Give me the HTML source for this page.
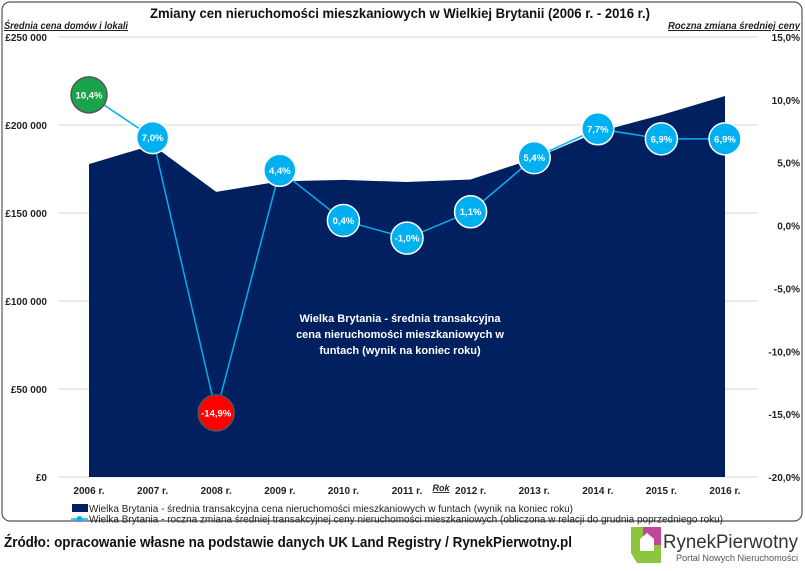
<!DOCTYPE html>
<html><head><meta charset="utf-8"><style>
body{margin:0;background:#fff;font-family:"Liberation Sans",sans-serif;}
svg text{font-family:"Liberation Sans","DejaVu Sans",sans-serif;}
</style></head><body>
<svg width="805" height="566" viewBox="0 0 805 566" id="c">
<rect x="2" y="2" width="800" height="519" rx="8" fill="#fff" stroke="#555" stroke-width="1.2"/>
<text x="150" y="18" font-size="14" font-weight="bold" fill="#111" textLength="500" lengthAdjust="spacingAndGlyphs">Zmiany cen nieruchomości mieszkaniowych w Wielkiej Brytanii (2006 r. - 2016 r.)</text>
<text x="4" y="29" font-size="10" font-style="italic" font-weight="bold" text-decoration="underline" fill="#222" textLength="124" lengthAdjust="spacingAndGlyphs">Średnia cena domów i lokali</text>
<text x="668" y="29" font-size="10" font-style="italic" font-weight="bold" text-decoration="underline" fill="#222" textLength="132" lengthAdjust="spacingAndGlyphs">Roczna zmiana średniej ceny</text>
<g id="grid"></g>
<g id="area"></g>
<g id="line"></g>
<text x="400" y="322" text-anchor="middle" font-size="11" font-weight="bold" fill="#fff"><tspan x="400">Wielka Brytania - średnia transakcyjna</tspan><tspan x="400" dy="16">cena nieruchomości mieszkaniowych w</tspan><tspan x="400" dy="16">funtach (wynik na koniec roku)</tspan></text>
<text x="441" y="491" text-anchor="middle" font-size="9" font-style="italic" font-weight="bold" text-decoration="underline" fill="#222">Rok</text>
<g>
<rect x="72" y="504" width="16" height="8" fill="#002060"/>
<text x="89" y="512" font-size="10" fill="#222" textLength="484" lengthAdjust="spacingAndGlyphs">Wielka Brytania - średnia transakcyjna cena nieruchomości mieszkaniowych w funtach (wynik na koniec roku)</text>
<line x1="71" y1="519" x2="88" y2="519" stroke="#00b0f0" stroke-width="1.5"/>
<circle cx="79.5" cy="519" r="3" fill="#00b0f0"/>
<text x="89" y="522.5" font-size="10" fill="#222" textLength="634" lengthAdjust="spacingAndGlyphs">Wielka Brytania - roczna zmiana średniej transakcyjnej ceny nieruchomości mieszkaniowych (obliczona w relacji do grudnia poprzedniego roku)</text>
</g>
<text x="4" y="547" font-size="15" font-weight="bold" fill="#111" textLength="568" lengthAdjust="spacingAndGlyphs">Źródło: opracowanie własne na podstawie danych UK Land Registry / RynekPierwotny.pl</text>
<g>
<polygon points="631,527 655,527 661,537 661,563 637,563 631,553" fill="#8cc63f"/>
<polygon points="643,527 661,527 661,545 643,545" fill="#c0479a"/>
<polygon points="640,539 647,533 654,539 654,551 640,551" fill="#fff"/>
<text x="663" y="548" font-size="19" fill="#333" textLength="135" lengthAdjust="spacingAndGlyphs">RynekPierwotny</text>
<text x="676" y="561" font-size="9.5" font-family="Liberation Serif" fill="#555" textLength="122" lengthAdjust="spacingAndGlyphs">Portal Nowych Nieruchomości</text>
</g>
</svg>
<script>
const years=["2006 r.","2007 r.","2008 r.","2009 r.","2010 r.","2011 r.","2012 r.","2013 r.","2014 r.","2015 r.","2016 r."];
const prices=[177800,188600,162000,168000,168800,167600,169000,181000,196000,205700,216500];
const changes=[10.4,7.0,-14.9,4.4,0.4,-1.0,1.1,5.4,7.7,6.9,6.9];
const leftTicks=[0,50000,100000,150000,200000,250000];
const leftLabels=["£0","£50 000","£100 000","£150 000","£200 000","£250 000"];
const rightTicks=[-20,-15,-10,-5,0,5,10,15];
const rightLabels=["-20,0%","-15,0%","-10,0%","-5,0%","0,0%","5,0%","10,0%","15,0%"];
const NS="http://www.w3.org/2000/svg";
const X=i=>89+i*(725-89)/(years.length-1);
const YL=v=>477-v/250000*440;
const YR=v=>477-(v+20)/35*440;
function mk(t,a,p){const e=document.createElementNS(NS,t);for(const k in a)e.setAttribute(k,a[k]);p.appendChild(e);return e;}
const g=document.getElementById('grid');
leftTicks.forEach((v,i)=>{
 const l=mk('line',{x1:58,x2:757,y1:YL(v),y2:YL(v),stroke:'#d9d9d9','stroke-width':1},g);
 
 
 const t=mk('text',{x:47,y:YL(v)+4,'text-anchor':'end','font-size':10,'font-weight':'bold',fill:'#222'},g);
 t.textContent=leftLabels[i];
 
 
});
rightTicks.forEach((v,i)=>{
 const t=mk('text',{x:800,y:YR(v)+4,'text-anchor':'end','font-size':10,'font-weight':'bold',fill:'#222'},g);
 t.textContent=rightLabels[i];
 
 
});
years.forEach((y,i)=>{
 const t=mk('text',{x:X(i),y:494,'text-anchor':'middle','font-size':10,'font-weight':'bold',fill:'#222'},g);
 t.textContent=y;
 
 
});
let d='M'+X(0)+','+YL(0);
prices.forEach((p,i)=>{d+=' L'+X(i)+','+YL(p);});
d+=' L'+X(prices.length-1)+','+YL(0)+' Z';
const ar=mk('path',{d:d,fill:'#002060'},document.getElementById('area'));


const lg=document.getElementById('line');
const pl=mk('polyline',{points:changes.map((c,i)=>X(i)+','+YR(c)).join(' '),fill:'none',stroke:'#00b0f0','stroke-width':1.5},lg);


changes.forEach((c,i)=>{
 const col=i===0?'#1aa34a':(c<-10?'#ff0000':'#00b0f0');
 const ci=mk('circle',{cx:X(i),cy:YR(c),r:i===0||c<-10?18:16,fill:col,stroke:i===0||c<-10?'#555':'#fff','stroke-width':1.5},lg);
 
 
 const t=mk('text',{x:X(i),y:YR(c)+3.5,'text-anchor':'middle','font-size':9.5,'font-weight':'bold',fill:'#fff'},lg);
 t.textContent=c.toFixed(1).replace('.',',')+'%';
 
 
});
</script>
</body></html>
